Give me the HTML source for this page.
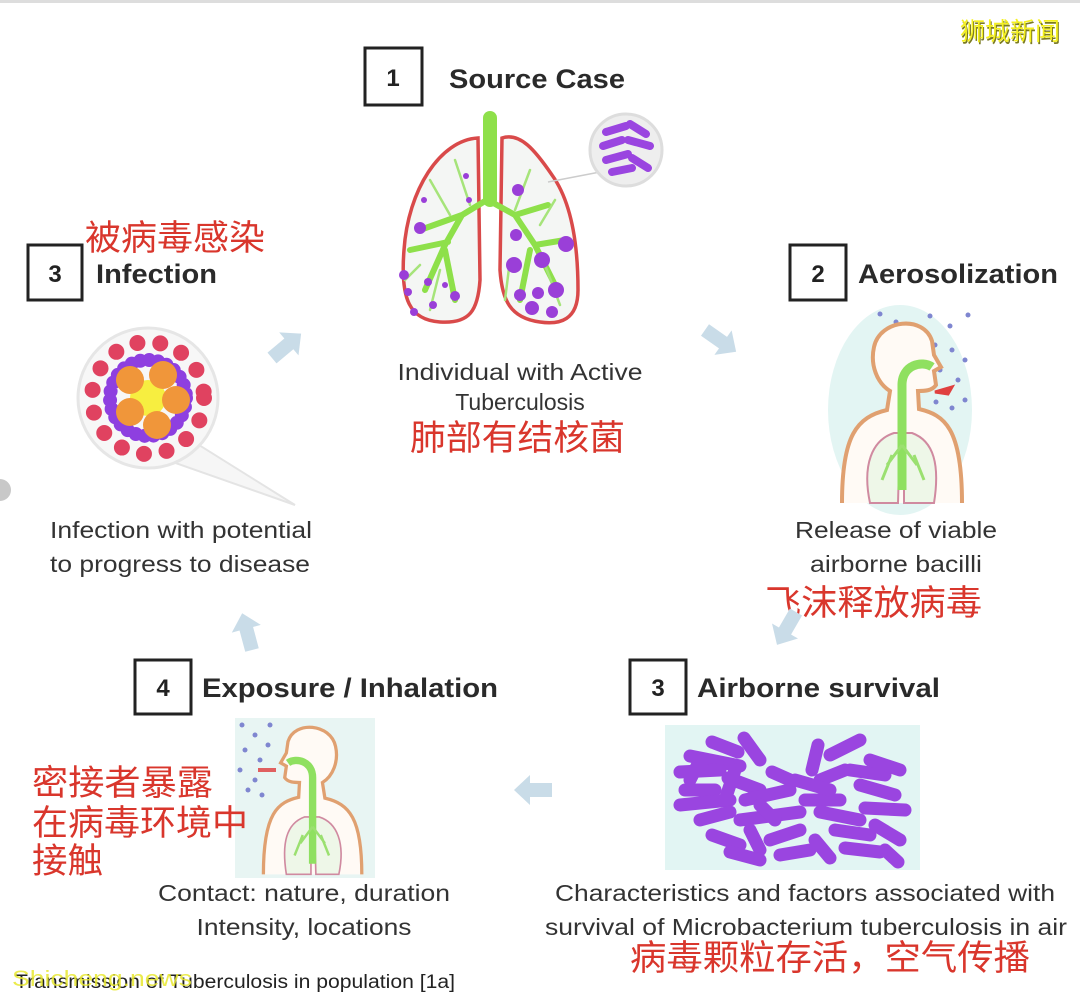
<!DOCTYPE html>
<html><head><meta charset="utf-8"><style>
html,body{margin:0;padding:0;background:#fff;}
svg{display:block;}
.en{font-family:"Liberation Sans",sans-serif;fill:#333;}
.b{font-weight:bold;font-size:27px;fill:#2a2a2a;}
.t{font-size:23px;}
.zh{font-family:"Liberation Sans","Noto Sans CJK SC",sans-serif;fill:#d9362c;font-size:35px;}
.box{fill:#fff;stroke:#222;stroke-width:3;}
.num{font-family:"Liberation Sans",sans-serif;font-weight:bold;font-size:24px;fill:#222;}
.arr{fill:#c9dce8;}
.bac line{stroke:#9a45e0;stroke-width:13;stroke-linecap:round;}
</style></head><body>
<svg width="1080" height="1002" viewBox="0 0 1080 1002" xmlns="http://www.w3.org/2000/svg">
<defs>
<g id="person">
 <path d="M10 198 C10 130 25 112 55 105 L58 86 C45 78 38 60 42 42 C48 14 92 10 100 36 L102 50 L109 62 L102 66 L104 80 C100 86 92 86 86 86 L87 104 C112 110 130 122 130 198" fill="#fffaf5" stroke="#e0a070" stroke-width="4"/>
 <path d="M38 198 C30 160 40 135 62 128 L68 128 L66 198 Z M72 198 L72 128 L80 128 C102 136 108 160 102 198 Z" fill="#eef7e8" stroke="#d08aa0" stroke-width="2"/>
 <path d="M70 185 L70 80 C70 60 90 55 100 62" fill="none" stroke="#8fe060" stroke-width="9"/>
 <path d="M70 140 L55 160 M70 140 L85 160 M60 150 L50 175 M82 150 L92 175" stroke="#9be070" stroke-width="3" fill="none"/>
</g>
</defs>
<rect x="0" y="0" width="1080" height="3" fill="#ddd"/>
<circle cx="0" cy="490" r="11" fill="#c8c8c8"/>

<!-- Source case -->
<rect class="box" x="365" y="48" width="57" height="57"/>
<text class="num" x="393" y="86" text-anchor="middle">1</text>
<text class="en b" x="449" y="88" textLength="176" lengthAdjust="spacingAndGlyphs">Source Case</text>
<path d="M478 138 C440 140 408 190 404 250 C400 300 410 320 440 322 C470 324 478 310 480 280 Z" fill="#f4f6f4" stroke="#d94a4a" stroke-width="3.5"/>
<path d="M502 138 C520 132 535 150 552 175 C570 200 578 240 578 290 C578 320 560 325 540 322 C510 318 502 300 500 270 Z" fill="#f4f6f4" stroke="#d94a4a" stroke-width="3.5"/>
<g stroke="#8ee04a" fill="none" stroke-linecap="round">
<path d="M490 118 L490 200" stroke-width="14"/>
<path d="M490 198 L462 215 L445 245 L425 290 M462 215 L420 230 M448 242 L410 250 M445 250 L455 300 M488 200 L515 215 L535 245 L555 285 M515 215 L548 205 M535 245 L565 240 M530 250 L520 300" stroke-width="6"/>
<path d="M430 180 L450 215 M455 160 L470 205 M420 265 L405 280 M440 270 L430 310 M530 170 L515 210 M555 200 L540 225 M545 265 L560 305 M510 260 L505 300" stroke-width="2.5" stroke="#a6e47a"/>
</g>
<g fill="#9a3fd8">
<circle cx="420" cy="228" r="6"/><circle cx="466" cy="176" r="3"/><circle cx="424" cy="200" r="3"/><circle cx="469" cy="200" r="3"/>
<circle cx="404" cy="275" r="5"/><circle cx="408" cy="292" r="4"/><circle cx="428" cy="282" r="4"/><circle cx="414" cy="312" r="4"/><circle cx="433" cy="305" r="4"/><circle cx="455" cy="296" r="5"/><circle cx="445" cy="285" r="3"/>
<circle cx="518" cy="190" r="6"/><circle cx="516" cy="235" r="6"/><circle cx="566" cy="244" r="8"/><circle cx="514" cy="265" r="8"/><circle cx="542" cy="260" r="8"/><circle cx="520" cy="295" r="6"/><circle cx="538" cy="293" r="6"/><circle cx="556" cy="290" r="8"/><circle cx="532" cy="308" r="7"/><circle cx="552" cy="312" r="6"/>
</g>
<line x1="548" y1="182" x2="600" y2="172" stroke="#ccc" stroke-width="1.5"/>
<circle cx="626" cy="150" r="36" fill="#eee" stroke="#ddd" stroke-width="3"/>
<g stroke="#9a45e0" stroke-width="8" stroke-linecap="round">
<line x1="606" y1="132" x2="626" y2="126"/><line x1="630" y1="124" x2="646" y2="134"/><line x1="603" y1="146" x2="622" y2="140"/><line x1="628" y1="140" x2="650" y2="146"/><line x1="606" y1="160" x2="628" y2="154"/><line x1="632" y1="158" x2="648" y2="168"/><line x1="612" y1="172" x2="632" y2="168"/>
</g>
<text class="en t" x="520" y="380" text-anchor="middle" textLength="245" lengthAdjust="spacingAndGlyphs">Individual with Active</text>
<text class="en t" x="520" y="410" text-anchor="middle">Tuberculosis</text>
<text class="zh" x="410" y="450" textLength="215" lengthAdjust="spacingAndGlyphs">肺部有结核菌</text>

<!-- Infection -->
<text class="zh" x="85" y="250" textLength="180" lengthAdjust="spacingAndGlyphs">被病毒感染</text>
<rect class="box" x="28" y="245" width="54" height="55"/>
<text class="num" x="55" y="282" text-anchor="middle">3</text>
<text class="en b" x="96" y="283" textLength="121" lengthAdjust="spacingAndGlyphs">Infection</text>
<path d="M110 440 L295 505 L175 430 Z" fill="#f6f6f6" stroke="#e4e4e4" stroke-width="2"/>
<circle cx="148" cy="398" r="70" fill="#f7f7f7" stroke="#e6e6e6" stroke-width="3"/>
<circle cx="148" cy="398" r="38" fill="none" stroke="#8e3fe0" stroke-width="14" stroke-dasharray="0 9" stroke-linecap="round"/>
<circle cx="148" cy="398" r="56" fill="none" stroke="#e04260" stroke-width="16" stroke-dasharray="0 23" stroke-linecap="round"/>
<circle cx="148" cy="398" r="18" fill="#f7ee40"/>
<g fill="#f0963a"><circle cx="130" cy="380" r="14"/><circle cx="163" cy="375" r="14"/><circle cx="176" cy="400" r="14"/><circle cx="157" cy="425" r="14"/><circle cx="130" cy="412" r="14"/></g>
<text class="en t" x="50" y="538" textLength="262" lengthAdjust="spacingAndGlyphs">Infection with potential</text>
<text class="en t" x="50" y="572" textLength="260" lengthAdjust="spacingAndGlyphs">to progress to disease</text>

<!-- Aerosolization -->
<rect class="box" x="790" y="245" width="56" height="55"/>
<text class="num" x="818" y="282" text-anchor="middle">2</text>
<text class="en b" x="858" y="283" textLength="200" lengthAdjust="spacingAndGlyphs">Aerosolization</text>
<ellipse cx="900" cy="410" rx="72" ry="105" fill="#e3f5f3"/>
<g fill="#7f86d0">
<circle cx="880" cy="314" r="2.5"/><circle cx="896" cy="322" r="2.5"/><circle cx="930" cy="316" r="2.5"/><circle cx="950" cy="326" r="2.5"/><circle cx="968" cy="315" r="2.5"/><circle cx="935" cy="345" r="2.5"/><circle cx="952" cy="350" r="2.5"/><circle cx="965" cy="360" r="2.5"/><circle cx="940" cy="370" r="2.5"/><circle cx="958" cy="380" r="2.5"/><circle cx="945" cy="392" r="2.5"/><circle cx="965" cy="400" r="2.5"/><circle cx="952" cy="408" r="2.5"/><circle cx="936" cy="402" r="2.5"/><circle cx="920" cy="330" r="2.5"/><circle cx="905" cy="336" r="2.5"/>
</g>
<g transform="translate(832,305)"><use href="#person"/></g>
<path d="M935 392 L952 387 L948 394 Z" fill="#e04040" stroke="#e04040" stroke-width="3"/>
<text class="en t" x="896" y="538" text-anchor="middle" textLength="202" lengthAdjust="spacingAndGlyphs">Release of viable</text>
<text class="en t" x="896" y="572" text-anchor="middle" textLength="172" lengthAdjust="spacingAndGlyphs">airborne bacilli</text>
<text class="zh" x="765" y="615" textLength="217" lengthAdjust="spacingAndGlyphs">飞沫释放病毒</text>

<!-- Airborne survival -->
<rect class="box" x="630" y="660" width="56" height="54"/>
<text class="num" x="658" y="696" text-anchor="middle">3</text>
<text class="en b" x="697" y="697" textLength="243" lengthAdjust="spacingAndGlyphs">Airborne survival</text>
<rect x="665" y="725" width="255" height="145" fill="#e2f5f3"/>
<g class="bac">
<line x1="712" y1="742" x2="738" y2="752"/><line x1="744" y1="738" x2="760" y2="760"/><line x1="690" y1="756" x2="740" y2="766"/><line x1="680" y1="772" x2="720" y2="770"/><line x1="728" y1="778" x2="760" y2="790"/><line x1="772" y1="772" x2="790" y2="780"/>
<line x1="685" y1="790" x2="715" y2="790"/><line x1="680" y1="805" x2="730" y2="800"/><line x1="735" y1="770" x2="725" y2="800"/><line x1="745" y1="800" x2="790" y2="790"/><line x1="700" y1="820" x2="730" y2="812"/><line x1="740" y1="820" x2="800" y2="812"/>
<line x1="712" y1="835" x2="740" y2="845"/><line x1="750" y1="830" x2="760" y2="850"/><line x1="770" y1="840" x2="800" y2="830"/><line x1="730" y1="852" x2="760" y2="860"/><line x1="780" y1="855" x2="810" y2="850"/><line x1="805" y1="800" x2="840" y2="800"/>
<line x1="818" y1="745" x2="812" y2="770"/><line x1="830" y1="755" x2="860" y2="740"/><line x1="820" y1="780" x2="845" y2="770"/><line x1="850" y1="770" x2="885" y2="775"/><line x1="795" y1="780" x2="830" y2="790"/><line x1="860" y1="785" x2="895" y2="795"/>
<line x1="820" y1="812" x2="860" y2="820"/><line x1="865" y1="808" x2="905" y2="810"/><line x1="835" y1="830" x2="870" y2="835"/><line x1="875" y1="825" x2="900" y2="840"/><line x1="845" y1="848" x2="880" y2="852"/><line x1="885" y1="850" x2="898" y2="862"/>
<line x1="815" y1="840" x2="830" y2="858"/><line x1="700" y1="760" x2="690" y2="780"/><line x1="760" y1="805" x2="775" y2="820"/><line x1="870" y1="760" x2="900" y2="770"/>
</g>
<text class="en t" x="805" y="901" text-anchor="middle" textLength="500" lengthAdjust="spacingAndGlyphs">Characteristics and factors associated with</text>
<text class="en t" x="806" y="935" text-anchor="middle" textLength="522" lengthAdjust="spacingAndGlyphs">survival of Microbacterium tuberculosis in air</text>
<text class="zh" x="630" y="970" textLength="400" lengthAdjust="spacingAndGlyphs">病毒颗粒存活，空气传播</text>

<!-- Exposure -->
<rect class="box" x="135" y="660" width="56" height="54"/>
<text class="num" x="163" y="696" text-anchor="middle">4</text>
<text class="en b" x="202" y="697" textLength="296" lengthAdjust="spacingAndGlyphs">Exposure / Inhalation</text>
<rect x="235" y="718" width="140" height="160" fill="#e8f5f3"/>
<g fill="#7f86d0"><circle cx="242" cy="725" r="2.5"/><circle cx="255" cy="735" r="2.5"/><circle cx="245" cy="750" r="2.5"/><circle cx="260" cy="760" r="2.5"/><circle cx="240" cy="770" r="2.5"/><circle cx="255" cy="780" r="2.5"/><circle cx="268" cy="745" r="2.5"/><circle cx="248" cy="790" r="2.5"/><circle cx="262" cy="795" r="2.5"/><circle cx="270" cy="725" r="2.5"/></g>
<g transform="translate(370,712) scale(-0.82,0.82)"><use href="#person"/></g>
<path d="M258 770 L276 770" stroke="#e06060" stroke-width="4"/>
<text class="zh" x="32" y="795" textLength="181" lengthAdjust="spacingAndGlyphs">密接者暴露</text>
<text class="zh" x="32" y="835" textLength="216" lengthAdjust="spacingAndGlyphs">在病毒环境中</text>
<text class="zh" x="32" y="873" textLength="71" lengthAdjust="spacingAndGlyphs">接触</text>
<text class="en t" x="304" y="901" text-anchor="middle" textLength="292" lengthAdjust="spacingAndGlyphs">Contact: nature, duration</text>
<text class="en t" x="304" y="935" text-anchor="middle" textLength="215" lengthAdjust="spacingAndGlyphs">Intensity, locations</text>

<g class="arr">
<path d="M0 -7 L22 -7 L22 -15 L38 0 L22 15 L22 7 L0 7 Z" transform="translate(272,358) rotate(-40)"/>
<path d="M0 -7 L22 -7 L22 -15 L38 0 L22 15 L22 7 L0 7 Z" transform="translate(705,330) rotate(35)"/>
<path d="M0 -7 L22 -7 L22 -15 L38 0 L22 15 L22 7 L0 7 Z" transform="translate(796,612) rotate(120)"/>
<path d="M0 -7 L22 -7 L22 -15 L38 0 L22 15 L22 7 L0 7 Z" transform="translate(552,790) rotate(180)"/>
<path d="M0 -7 L22 -7 L22 -15 L38 0 L22 15 L22 7 L0 7 Z" transform="translate(252,650) rotate(-105)"/>
</g>

<text x="15" y="988" font-family="Liberation Sans,sans-serif" font-size="19" fill="#222" textLength="440" lengthAdjust="spacingAndGlyphs">Transmission of Tuberculosis in population [1a]</text>
<text x="12" y="986" font-family="Liberation Sans,sans-serif" font-size="22" fill="#e8e830" opacity="0.85" textLength="180" lengthAdjust="spacingAndGlyphs">Shicheng.news</text>
<text x="961" y="42" font-family="Liberation Sans,'Noto Sans CJK SC',sans-serif" font-size="25" fill="#7a7a20">狮城新闻</text>
<text x="960" y="40" font-family="Liberation Sans,'Noto Sans CJK SC',sans-serif" font-size="25" fill="#f4f020">狮城新闻</text>
</svg>
</body></html>
